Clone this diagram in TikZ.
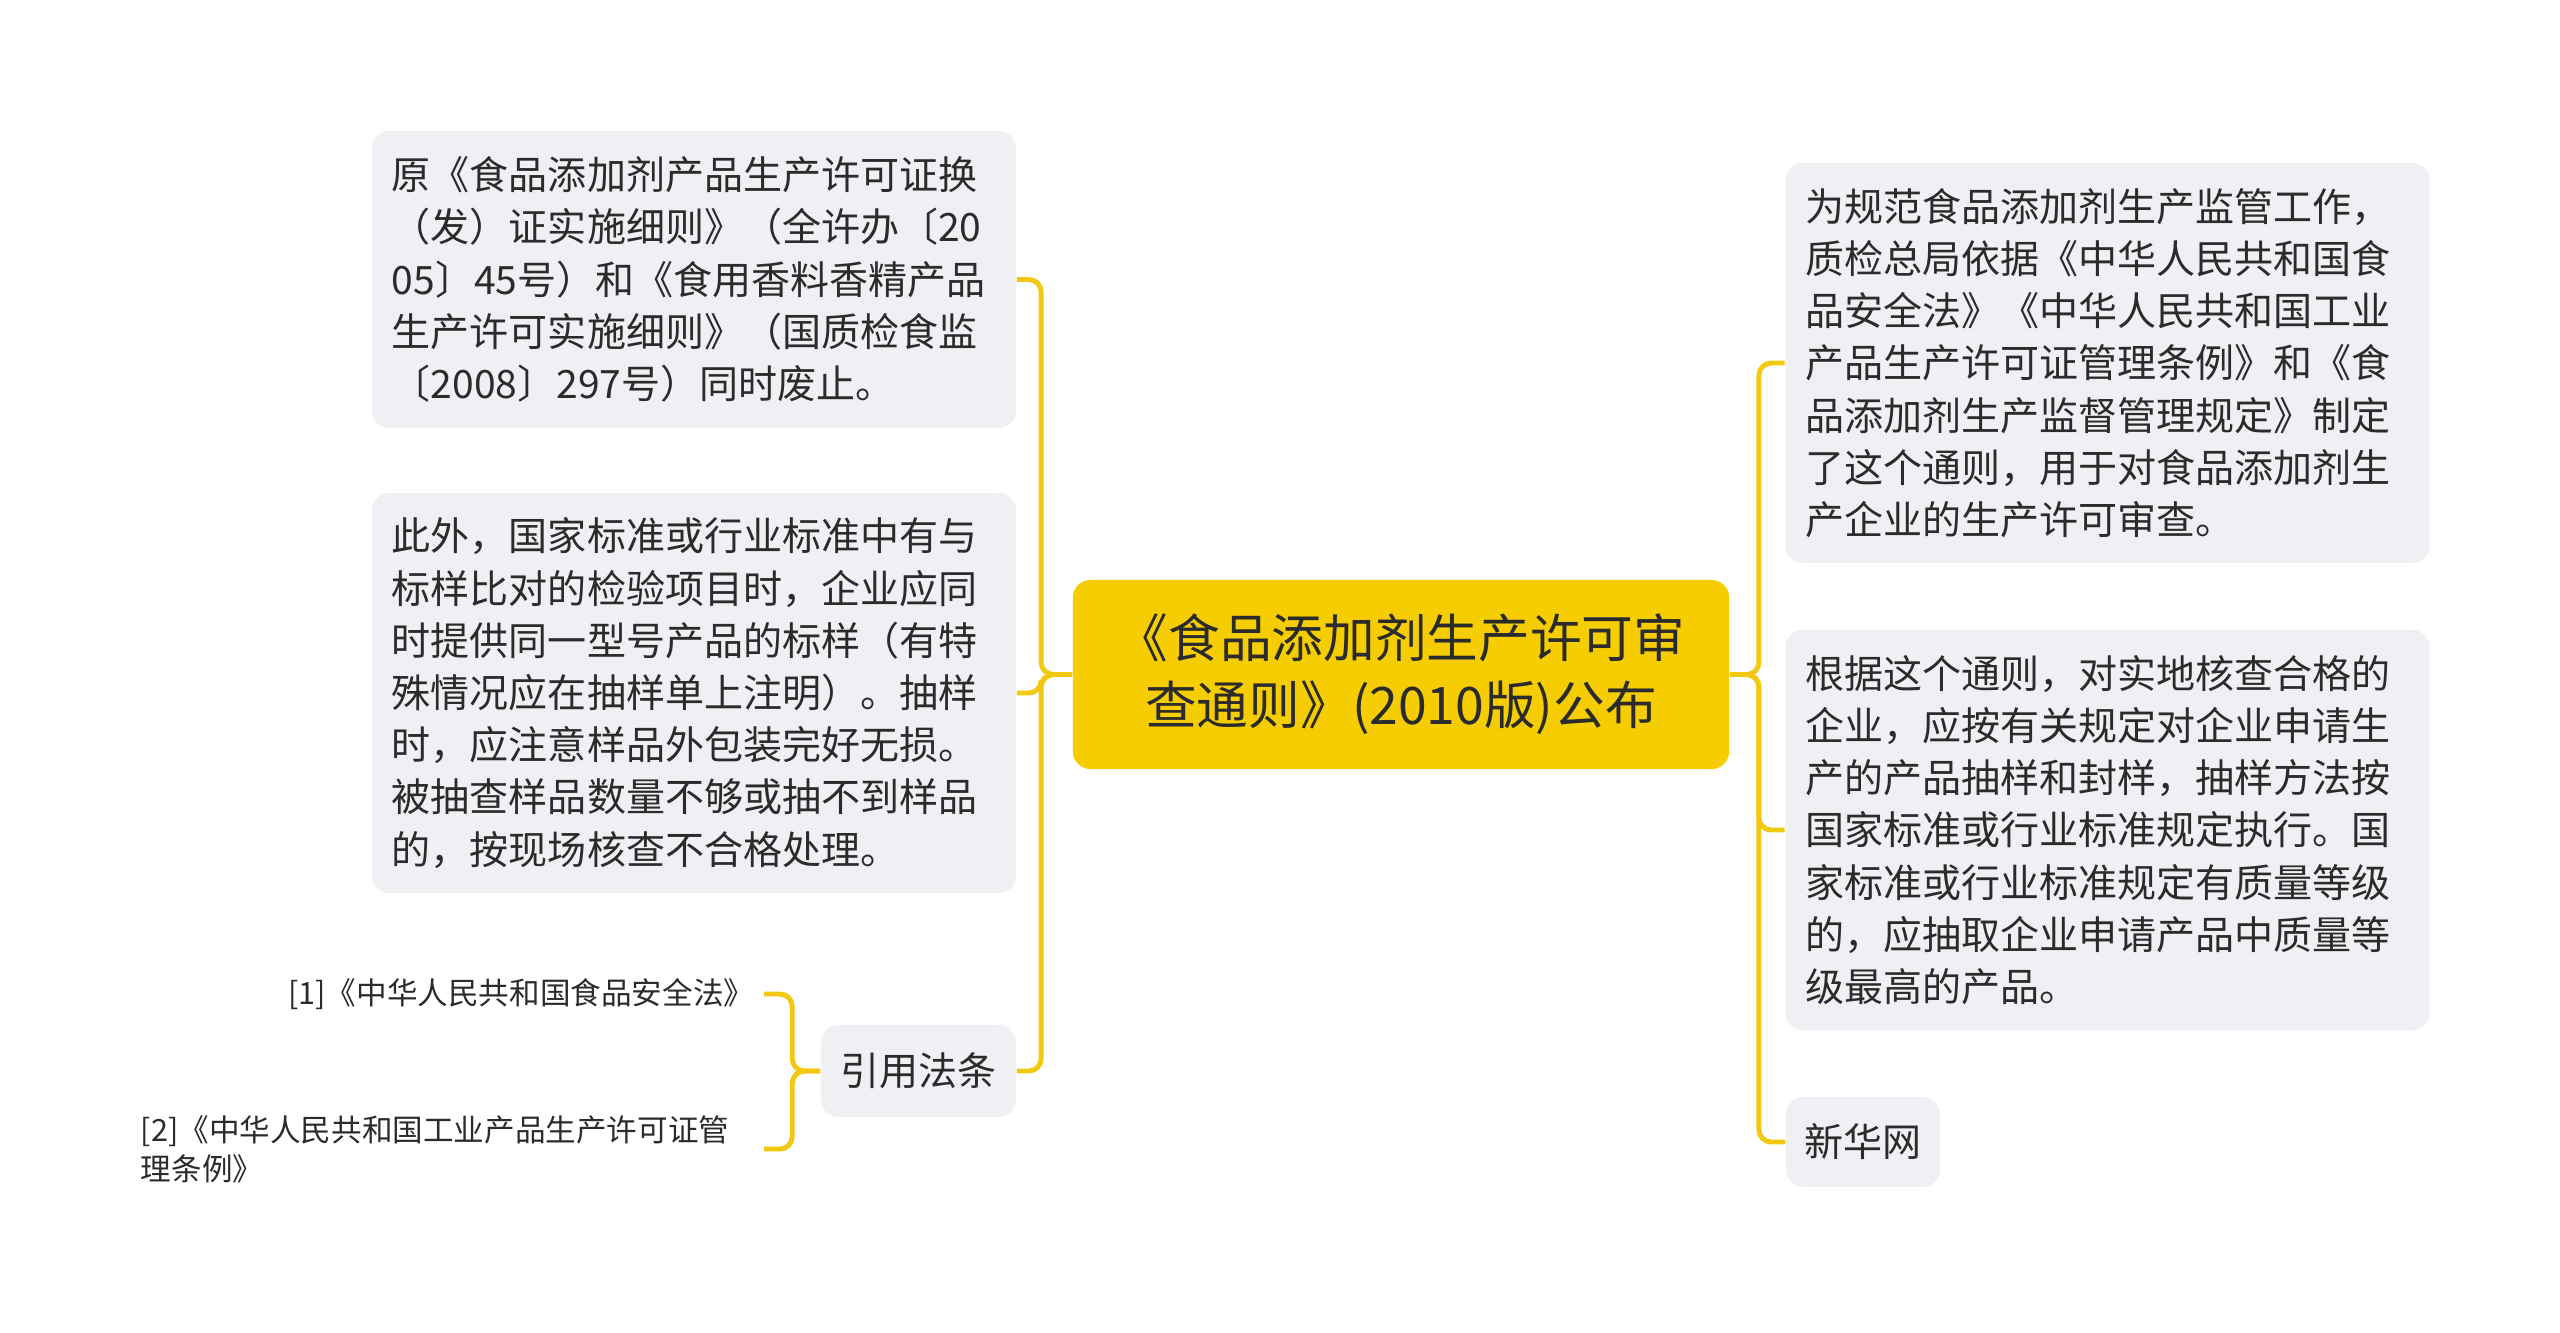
\documentclass[tikz,border=0pt]{standalone}
\usepackage{fontspec}
\newfontfamily\cjk{Noto Sans CJK SC}
\usepackage{tikz}
\usetikzlibrary{positioning}

\definecolor{rootfill}{HTML}{F5CD00}
\definecolor{linkcol}{HTML}{F2C811}
\definecolor{boxfill}{HTML}{EEF0F3}
\definecolor{txtcol}{HTML}{2B2B2B}

\tikzset{
  rootbox/.style={fill=rootfill, rounded corners=5pt, text=txtcol, align=center,
    minimum width=6.56cm, minimum height=1.89cm, inner sep=0pt,
    font=\cjk\fontsize{14.7pt}{19pt}\selectfont},
  textbox/.style={fill=boxfill, rounded corners=5pt, text=txtcol, align=left,
    text width=6.04cm, inner xsep=0.2cm, inner ysep=0pt,
    font=\cjk\fontsize{11.1pt}{14.85pt}\selectfont},
  smallbox/.style={fill=boxfill, rounded corners=5pt, text=txtcol,
    inner sep=0pt, font=\cjk\fontsize{11.1pt}{14.85pt}\selectfont},
  reftext/.style={text=txtcol, align=left, inner xsep=0.2cm, inner ysep=0pt,
    font=\cjk\fontsize{8.7pt}{11.1pt}\selectfont},
  conn/.style={draw=linkcol, line width=1.4pt, rounded corners=3.5pt}
}

\begin{document}
\begin{tikzpicture}[x=0.01cm, y=-0.01cm]
\useasboundingbox (0,0) rectangle (2560,1332);

% Hauptknoten
\node[rootbox] (root) at (1401,674.5) {《食品添加剂生产许可审\\查通则》(2010版)公布};

% linke Seite
\node[textbox, minimum height=2.97cm] (l1) at (694,279.5) {原《食品添加剂产品生产许可证换\\（发）证实施细则》（全许办〔20\\05〕45号）和《食用香料香精产品\\生产许可实施细则》（国质检食监\\〔2008〕297号）同时废止。};
\node[textbox, minimum height=4.0cm] (l2) at (694,693) {此外，国家标准或行业标准中有与\\标样比对的检验项目时，企业应同\\时提供同一型号产品的标样（有特\\殊情况应在抽样单上注明）。抽样\\时，应注意样品外包装完好无损。\\被抽查样品数量不够或抽不到样品\\的，按现场核查不合格处理。};
\node[smallbox, minimum width=1.95cm, minimum height=0.92cm] (yf) at (918.5,1071) {引用法条};

% Quellen
\node[reftext, anchor=east, inner xsep=0.09cm] (q1) at (764,994) {[1]《中华人民共和国食品安全法》};
\node[reftext, anchor=east, inner xsep=0.34cm] (q2) at (764,1149) {[2]《中华人民共和国工业产品生产许可证管\\理条例》};

% rechte Seite
\node[textbox, minimum height=4.0cm] (r1) at (2107.5,363) {为规范食品添加剂生产监管工作，\\质检总局依据《中华人民共和国食\\品安全法》《中华人民共和国工业\\产品生产许可证管理条例》和《食\\品添加剂生产监督管理规定》制定\\了这个通则，用于对食品添加剂生\\产企业的生产许可审查。};
\node[textbox, minimum height=4.0cm] (r2) at (2107.5,830) {根据这个通则，对实地核查合格的\\企业，应按有关规定对企业申请生\\产的产品抽样和封样，抽样方法按\\国家标准或行业标准规定执行。国\\家标准或行业标准规定有质量等级\\的，应抽取企业申请产品中质量等\\级最高的产品。};
\node[smallbox, minimum width=1.54cm, minimum height=0.90cm] (xh) at (1863,1142) {新华网};

% Verbindungen
\foreach \c in {l1,l2,yf}
  \draw[conn] (root.west) -- ++(-31,0) |- (\c.east);
\foreach \c in {r1,r2,xh}
  \draw[conn] (root.east) -- ++(29,0) |- (\c.west);
\foreach \c in {q1,q2}
  \draw[conn] (yf.west) -- ++(-28,0) |- (\c.east);

\end{tikzpicture}
\end{document}
